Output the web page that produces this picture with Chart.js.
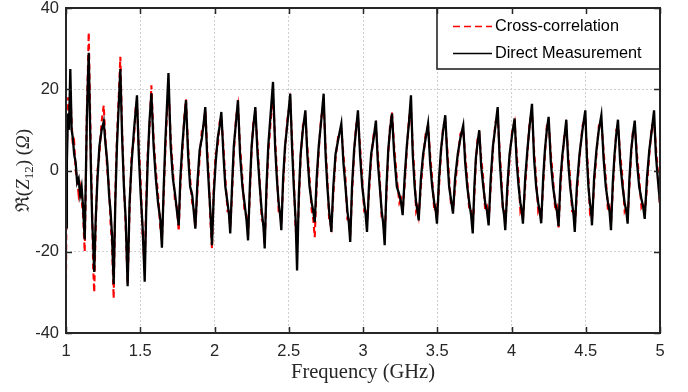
<!DOCTYPE html>
<html><head><meta charset="utf-8">
<script src="https://cdn.jsdelivr.net/npm/chart.js@4.4.0/dist/chart.umd.min.js"></script>
<style>html,body{margin:0;padding:0;background:#fff;}#wrap{width:688px;height:392px;}</style>
</head><body><div id="wrap"><canvas id="c" width="688" height="392"></canvas></div>
<script>
// Frequency samples (GHz)
const freqGHz = [
1.000,1.006,1.013,1.020,1.029,1.038,1.046,1.055,1.065,1.075,1.085,1.095,1.105,1.115,1.126,
1.133,1.140,1.147,1.153,1.160,1.168,1.176,1.183,1.190,
1.200,1.212,1.225,1.240,1.254,1.265,1.278,1.290,1.300,1.310,1.321,
1.332,1.343,1.355,1.366,1.378,1.390,1.402,1.415,
1.428,1.442,1.458,1.470,1.478,1.490,1.503,1.516,1.530,
1.540,1.550,1.562,1.575,1.590,1.605,1.620,1.635,1.646,
1.658,1.670,1.680,1.690,1.705,1.720,1.735,1.747,1.759,
1.770,1.783,1.796,1.808,1.822,1.836,1.850,1.860,1.871,
1.885,1.900,1.915,1.928,1.938,1.950,1.962,1.972,1.983,
1.995,2.008,2.022,2.035,2.046,2.060,2.073,2.088,2.098,2.106,
2.118,2.130,2.145,2.158,2.172,2.188,2.202,2.215,2.226,
2.238,2.250,2.262,2.275,2.290,2.305,2.318,2.330,2.338,
2.350,2.362,2.378,2.394,2.408,2.420,2.432,2.442,2.450,
2.462,2.475,2.492,2.510,2.522,2.534,2.546,2.556,
2.568,2.580,2.595,2.612,2.625,2.640,2.655,2.665,2.675,
2.688,2.702,2.718,2.735,2.748,2.760,2.772,2.787,
2.800,2.815,2.835,2.854,2.868,2.882,2.895,2.905,2.914,
2.926,2.940,2.953,2.966,2.980,2.995,3.008,3.018,3.027,
3.040,3.055,3.072,3.087,3.100,3.113,3.126,3.136,3.146,
3.158,3.170,3.182,3.195,3.210,3.228,3.245,3.257,3.267,
3.280,3.295,3.310,3.323,3.335,3.348,3.358,3.367,3.375,
3.390,3.405,3.422,3.438,3.452,3.466,3.480,3.490,3.498,
3.512,3.525,3.540,3.554,3.568,3.580,3.592,3.600,3.606,
3.620,3.638,3.656,3.675,3.688,3.702,3.716,3.728,3.739,
3.750,3.760,3.772,3.783,3.796,3.810,3.823,3.835,3.846,
3.860,3.875,3.892,3.907,3.920,3.932,3.942,3.950,3.958,
3.972,3.987,4.005,4.021,4.035,4.048,4.060,4.069,4.077,
4.092,4.107,4.122,4.138,4.152,4.166,4.180,4.190,4.200,
4.213,4.225,4.238,4.250,4.265,4.280,4.295,4.306,4.317,
4.330,4.343,4.356,4.369,4.382,4.395,4.408,4.418,4.426,
4.440,4.458,4.478,4.497,4.508,4.518,4.528,4.536,4.542,
4.556,4.572,4.588,4.605,4.620,4.635,4.650,4.660,4.670,
4.682,4.694,4.706,4.717,4.732,4.748,4.762,4.773,4.782,
4.794,4.806,4.818,4.830,4.845,4.860,4.875,4.887,4.897,
4.912,4.928,4.945,4.960,4.972,4.985,5.000
];
// Direct Measurement, Re(Z12) in ohm
const directMeasurement = [
-14,2,14,10,25,10,8,4,2,-3,-2,-6,-4,-9,-17,
-3,12,22,29,15,0,-12,-18,-25,
-12,-2,6,10,12,7,2,-6,-10,-16,-28,
-8,6,16,25,8,-4,-12,-28.5,
-8,2,10,15,18.5,4,-6,-14,-27.4,
-10,2,12,19,6,-2,-8,-12,-19,
-4,8,16,24,6,-2,-6,-10,-13.5,
-2,6,12,17.3,4,-4,-6,-10,-14.3,
-3,5,8,12,15.6,4,-4,-10,-18.4,
-6,2,8,11,14.4,4,-4,-8,-11,-15.5,
-4,6,12,17.3,4,-4,-8,-12,-17.2,
-4,6,11,15.6,4,-4,-10,-14,-19.2,
-4,6,14,21.8,6,-2,-8,-11,-14.7,
-2,6,12,18.9,6,-4,-12,-24.6,
-6,4,10,14.8,4,-4,-8,-10,-12.7,
-2,6,12,18.9,4,-4,-10,-15.1,
-4,4,8,11.5,2,-4,-10,-13,-17.6,
-4,5,10,14.8,4,-4,-8,-11,-15.1,
-4,4,8,12.3,2,-4,-10,-13,-18.4,
-4,5,10,14,4,-4,-6,-8,-11,
-2,6,12,18.5,4,-4,-8,-10,-12.3,
-2,4,8,11.5,2,-4,-8,-10,-13.1,
-2,5,10,13.6,3,-4,-7,-9,-10.6,
-2,4,8,11.1,2,-4,-8,-11,-15.5,
-4,3,7,9.9,1,-4,-8,-10,-13.5,
-2,6,11,15.6,3,-4,-9,-11,-14.7,
-4,4,9,12.8,2,-4,-8,-10,-13.1,
-2,5,11,16.4,3,-4,-8,-10,-13,
-2,5,10,13.2,2,-4,-8,-10,-13.7,
-2,4,8,12.5,2,-4,-8,-11,-15.1,
-4,4,10,14.8,3,-4,-8,-10,-13.5,
-2,5,10,13.6,3,-4,-8,-10,-14.7,
-3,4,9,12.5,2,-4,-8,-10,-13.1,
-2,5,9,12.3,2,-4,-7,-9,-11.9,
-2,5,10,14.8,4,-2,-8
];
// Cross-correlation, Re(Z12) in ohm
const crossCorrelation = [
-27,5,18,12,19,12,6,7,0,-2,-6,-4,-7,-11,-20,
-5,14,24,34,20,3,-10,-24,-30,
-14,0,4,12,16,8,0,-4,-13,-18,-31.5,
-6,8,18,28,10,-3,-14,-28,
-10,4,8,16,17,6,-3,-16,-24,
-8,4,10,21,8,0,-6,-14,-17,
-6,6,14,21,8,0,-8,-9,-15,
-4,4,13,17.5,6,-2,-8,-9,-14,
-5,3,10,11,15,6,-2,-12,-19.2,
-4,4,6,12,13,6,-2,-10,-10,-14,
-6,4,13,16,6,-2,-10,-11,-16,
-6,5,12,14,6,-3,-12,-13,-18,
-6,4,12,18,8,0,-10,-10,-13,
-4,5,13,17,8,-2,-14,-18,
-8,3,11,13,6,-2,-10,-12,-16.4,
-4,5,13,16,6,-2,-12,-14,
-6,3,9,10,4,-2,-12,-12,-16,
-6,4,11,13,6,-2,-10,-10,-13,
-6,3,9,11,4,-2,-12,-12,-16,
-6,4,11,14.4,6,-2,-8,-7,-10,
-4,5,13,15,6,-2,-10,-9,-11,
-4,3,9,11,4,-2,-10,-9,-12,
-4,4,11,12,5,-2,-8,-8,-10,
-4,3,9,10,4,-2,-10,-10,-14,
-6,2,8,9,3,-2,-10,-9,-13,
-4,5,12,13,5,-2,-10,-10,-13,
-6,3,10,12,4,-2,-10,-9,-12,
-4,4,12,14,5,-2,-10,-9,-12,
-4,4,11,12,4,-2,-10,-9,-14,
-4,3,9,11,4,-2,-10,-10,-14,
-6,3,11,13,5,-2,-10,-9,-12,
-4,4,11,12,5,-2,-10,-9,-13,
-5,3,10,11,4,-2,-10,-9,-12,
-4,4,10,11,4,-2,-9,-8,-11,
-4,4,11,12,6,0,-9
];
const seriesLabels = ['Cross-correlation', 'Direct Measurement'];
const xTickValues = [1, 1.5, 2, 2.5, 3, 3.5, 4, 4.5, 5];
const yTickValues = [-40, -20, 0, 20, 40];
const xAxisTitle = 'Frequency (GHz)';

const toPts = arr => freqGHz.map((f, i) => ({x: f, y: arr[i]}));
const SANS = "'Liberation Sans', Arial, Helvetica, sans-serif";
const SERIF = "'Liberation Serif', 'DejaVu Serif', 'Times New Roman', serif";
const AX = '#262626';

const framePlugin = {
  id: 'frame',
  afterDraw(chart) {
    const ctx = chart.ctx;
    const {left, right, top, bottom} = chart.chartArea;
    const xs = chart.scales.x, ys = chart.scales.y;
    ctx.save();
    // legend box
    const lx = 437, ly = top, lw = right - 437, lh = 61;
    ctx.fillStyle = '#fff';
    ctx.fillRect(lx, ly, lw, lh);
    ctx.font = '16.3px ' + SANS;
    ctx.textBaseline = 'middle';
    ctx.fillStyle = '#000';
    const rows = [{y: top + 18.5, color: '#ff0000', dash: [7, 4], w: 1.4}, {y: top + 45.5, color: '#000', dash: [], w: 1.4}];
    rows.forEach((r, i) => {
      ctx.beginPath();
      ctx.setLineDash(r.dash);
      ctx.strokeStyle = r.color;
      ctx.lineWidth = r.w;
      ctx.moveTo(453, r.y); ctx.lineTo(492, r.y);
      ctx.stroke();
      ctx.fillText(chart.data.datasets[i].label, 495, r.y + 0.5);
    });
    ctx.setLineDash([]);
    ctx.strokeStyle = AX;
    ctx.lineWidth = 1.6;
    ctx.strokeRect(lx, ly, lw, lh);
    // ticks
    ctx.lineWidth = 1.5;
    ctx.beginPath();
    xTickValues.forEach(v => {
      const px = Math.round(xs.getPixelForValue(v)) + 0.5;
      ctx.moveTo(px, bottom); ctx.lineTo(px, bottom - 6);
      ctx.moveTo(px, top); ctx.lineTo(px, top + 6);
    });
    yTickValues.forEach(v => {
      const py = Math.round(ys.getPixelForValue(v)) + 0.5;
      ctx.moveTo(left, py); ctx.lineTo(left + 6, py);
      ctx.moveTo(right, py); ctx.lineTo(right - 6, py);
    });
    ctx.stroke();
    // axes box
    ctx.lineWidth = 2;
    ctx.strokeRect(left, top, right - left, bottom - top);
    // y-axis title  ℜ(Z12) (Ω)
    const parts = [
      {t: 'ℜ', f: '19px ' + SERIF, dy: 0},
      {t: '(', f: '19px ' + SERIF, dy: 0},
      {t: 'Z', f: 'italic 19px ' + SERIF, dy: 0},
      {t: '12', f: '13px ' + SERIF, dy: 4},
      {t: ')', f: '19px ' + SERIF, dy: 0},
      {t: ' (', f: '19px ' + SERIF, dy: 0},
      {t: 'Ω', f: 'italic 19px ' + SERIF, dy: 0},
      {t: ')', f: '19px ' + SERIF, dy: 0}
    ];
    let total = 0;
    parts.forEach(p => { ctx.font = p.f; p.w = ctx.measureText(p.t).width; total += p.w; });
    ctx.translate(29, (top + bottom) / 2);
    ctx.rotate(-Math.PI / 2);
    ctx.fillStyle = AX;
    ctx.textBaseline = 'alphabetic';
    ctx.textAlign = 'left';
    let cx = -total / 2;
    parts.forEach(p => { ctx.font = p.f; ctx.fillText(p.t, cx, p.dy); cx += p.w; });
    ctx.restore();
  }
};

new Chart(document.getElementById('c'), {
  type: 'line',
  data: {
    datasets: [
      {label: seriesLabels[0], data: toPts(crossCorrelation), borderColor: '#ff0000', borderWidth: 2.1, borderDash: [6, 4], pointRadius: 0, fill: false, order: 2},
      {label: seriesLabels[1], data: toPts(directMeasurement), borderColor: '#000000', borderWidth: 2.3, pointRadius: 0, fill: false, order: 1}
    ]
  },
  options: {
    responsive: false,
    animation: false,
    devicePixelRatio: 1,
    layout: {padding: {top: 8, right: 28, left: 0, bottom: 0}},
    plugins: {legend: {display: false}, tooltip: {enabled: false}},
    elements: {line: {tension: 0, borderJoinStyle: 'miter'}, point: {radius: 0}},
    scales: {
      x: {
        type: 'linear', min: 1, max: 5,
        afterBuildTicks: s => { s.ticks = xTickValues.map(v => ({value: v})); },
        afterFit: s => { s.height = 59; s.paddingLeft = 0; s.paddingRight = 0; },
        ticks: {padding: 9, color: AX, font: {family: SANS, size: 16.5}, maxRotation: 0, autoSkip: false, callback: v => String(v)},
        grid: {color: '#cfcfcf', lineWidth: 1, drawTicks: false},
        border: {display: false, dash: [2, 2]},
        title: {display: true, text: xAxisTitle, color: AX, font: {family: SERIF, size: 20.5}, padding: {top: 0, bottom: 7}}
      },
      y: {
        type: 'linear', min: -40, max: 40,
        afterBuildTicks: s => { s.ticks = yTickValues.map(v => ({value: v})); },
        afterFit: s => { s.width = 66; s.paddingTop = 0; s.paddingBottom = 0; },
        ticks: {padding: 7, color: AX, font: {family: SANS, size: 16.5}, callback: v => String(v)},
        grid: {color: '#cfcfcf', lineWidth: 1, drawTicks: false},
        border: {display: false, dash: [2, 2]},
        title: {display: false}
      }
    }
  },
  plugins: [framePlugin]
});
</script></body></html>
